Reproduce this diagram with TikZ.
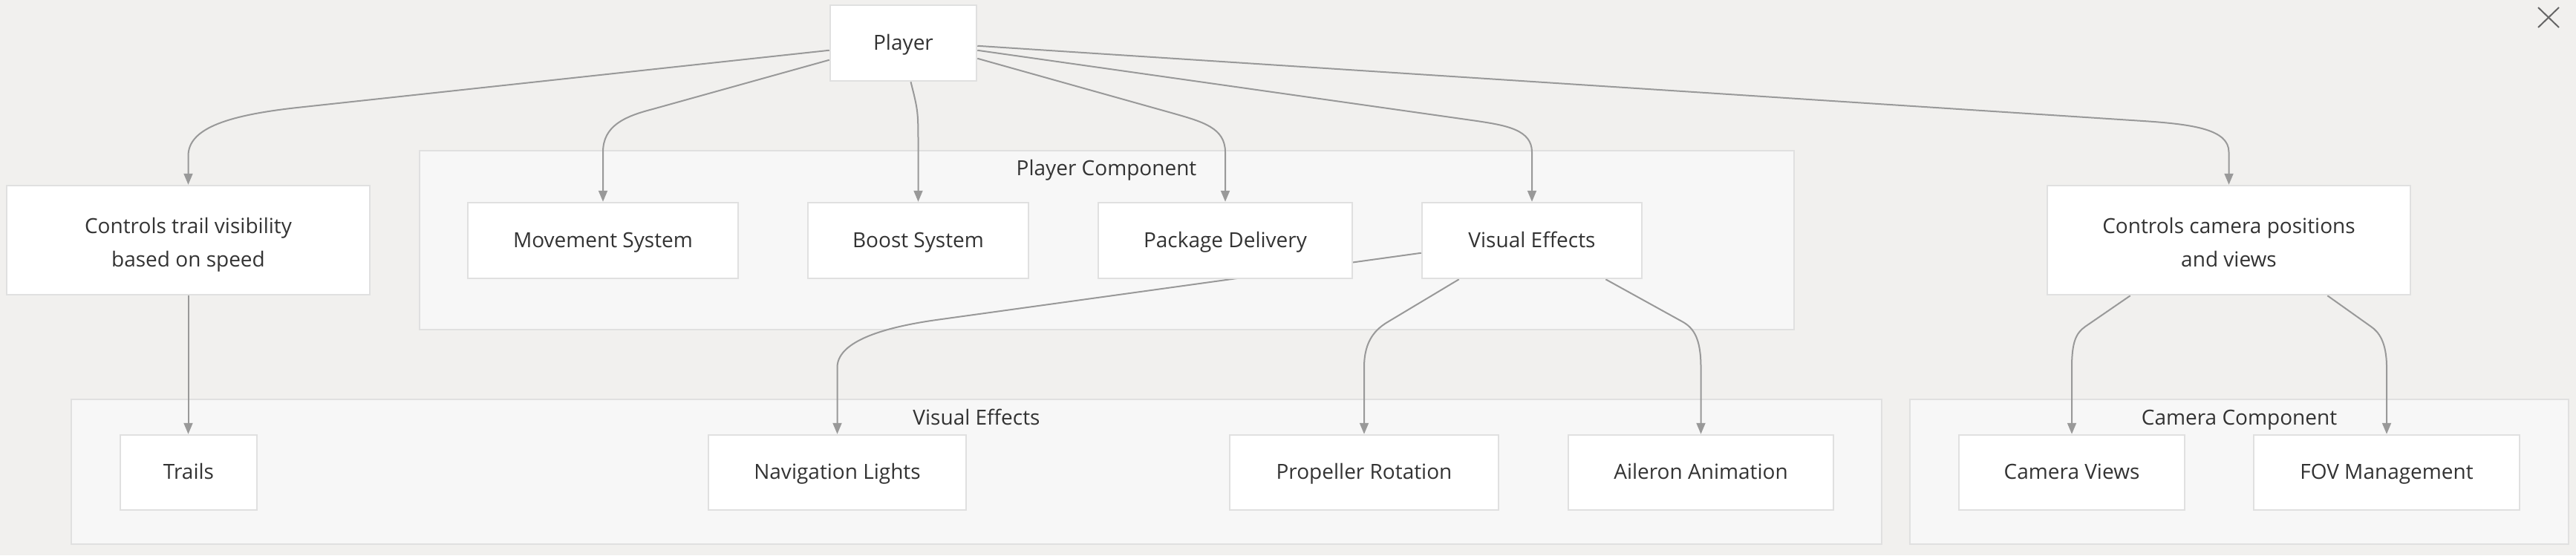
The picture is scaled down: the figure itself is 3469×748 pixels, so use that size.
\documentclass[tikz,border=0pt]{standalone}
\usepackage{fontspec}
\setmainfont{Open Sans}
\usetikzlibrary{arrows.meta,calc}
\definecolor{bgc}{HTML}{F1F0EE}
\definecolor{clfill}{HTML}{F7F7F7}
\definecolor{clline}{HTML}{E0E0E0}
\definecolor{bxline}{HTML}{E0E0E0}
\definecolor{edgec}{HTML}{999999}
\definecolor{txtc}{HTML}{333333}
\pgfdeclarelayer{bg}
\pgfdeclarelayer{edges}
\pgfsetlayers{bg,edges,main}
\newcommand{\toprule}{\rule{0pt}{40.5pt}}
\tikzset{
  box/.style={draw=bxline, line width=2.5pt, fill=white, inner sep=0pt, text=txtc,
    align=center, font=\fontsize{28}{45}\selectfont, minimum height=102pt},
  oneline/.style={execute at begin node=\strut, execute at end node=\strut},
  twoline/.style={minimum height=147pt},
  cluster/.style={draw=clline, line width=2.5pt, fill=clfill},
  cltitle/.style={text=txtc, font=\fontsize{28}{34}\selectfont, inner sep=0pt, anchor=base},
  edge/.style={draw=edgec, line width=2pt, -{Triangle[length=15pt,width=12pt]}},
  xmark/.style={draw=black!60, line width=2pt}
}
\begin{document}
\begin{tikzpicture}[x=1pt,y=-1pt]
\useasboundingbox (0,0) rectangle (3469,748);
\begin{pgfonlayer}{bg}
  \fill[bgc] (0,0) rectangle (3469,748);
  \draw[cluster] (565,203) rectangle (2416,444);
  \draw[cluster] (96,538) rectangle (2534,733);
  \draw[cluster] (2572,538) rectangle (3459,733);
\end{pgfonlayer}
\node[cltitle] (pctitle) at (1490,236) {Player Component};
\node[cltitle] (vetitle) at (1315,572) {Visual Effects};
\node[cltitle] (cctitle) at (3015.5,572) {Camera Component};

\node[box, oneline, minimum width=197pt] (player) at (1216.5,58) {Player};
\node[box, twoline, minimum width=489pt] (trail) at (253.5,323.5) {\toprule Controls trail visibility\\based on speed\strut};
\node[box, oneline, minimum width=364pt] (move) at (812,324) {Movement System};
\node[box, oneline, minimum width=297pt] (boost) at (1236.5,324) {Boost System};
\node[box, oneline, minimum width=342pt] (pkg) at (1650,324) {Package Delivery};
\node[box, oneline, minimum width=296pt] (vfx) at (2063,324) {Visual Effects};
\node[box, twoline, minimum width=489pt] (cam) at (3001.5,323.5) {\toprule Controls camera positions\\and views\strut};
\node[box, oneline, minimum width=184pt, minimum height=101pt] (trails) at (254,636.5) {Trails};
\node[box, oneline, minimum width=347pt, minimum height=101pt] (nav) at (1127.5,636.5) {Navigation Lights};
\node[box, oneline, minimum width=362pt, minimum height=101pt] (prop) at (1837,636.5) {Propeller Rotation};
\node[box, oneline, minimum width=357pt, minimum height=101pt] (ail) at (2290.5,636.5) {Aileron Animation};
\node[box, oneline, minimum width=304pt, minimum height=101pt] (camv) at (2790,636.5) {Camera Views};
\node[box, oneline, minimum width=358pt, minimum height=101pt] (fov) at (3214,636.5) {FOV Management};

\begin{pgfonlayer}{edges}
\draw[edge] ($(player.north west)+(0,62)$) -- (400,145) .. controls (300,156) and (253.5,175) .. (253.5,210) -- (trail.north);
\draw[edge] ($(player.north west)+(0,75)$) -- (879,147) .. controls (840,157) and (812,170) .. (812,205) -- (move.north);
\draw[edge] ($(player.south)+(10,0)$) .. controls (1236.5,150) .. (1236.5,200) -- (boost.north);
\draw[edge] ($(player.north east)+(0,73)$) -- (1581,153) .. controls (1619,164) and (1650,172) .. (1650,205) -- (pkg.north);
\draw[edge] ($(player.north east)+(0,62)$) -- (1989,163) .. controls (2029,169) and (2063,175) .. (2063,205) -- (vfx.north);
\draw[edge] ($(player.north east)+(0,56)$) -- (2886,163) .. controls (2956,167.5) and (3001.5,175) .. (3001.5,205) -- (cam.north);
\draw[edge] (trail.south) -- (trail.south |- trails.north);
\draw[edge] ($(vfx.north west)+(0,69)$) -- (1268,430) .. controls (1208,438) and (1127.5,455) .. (1127.5,495) -- (nav.north);
\draw[edge] ($(vfx.south west)+(51,0)$) -- (1870,433) .. controls (1853,443) and (1837,458) .. (1837,495) -- (prop.north);
\draw[edge] ($(vfx.south east)+(-50,0)$) -- (2265,433) .. controls (2282,442) and (2290.5,458) .. (2290.5,495) -- (ail.north);
\draw[edge] ($(cam.south west)+(113,0)$) -- (2808,440) .. controls (2796,448.5) and (2790,460) .. (2790,495) -- (camv.north);
\draw[edge] ($(cam.south east)+(-113,0)$) -- (3193,440) .. controls (3203,447) and (3214,460) .. (3214,495) -- (fov.north);
\end{pgfonlayer}

\coordinate (xa) at (3418,10);
\coordinate (xb) at (3446,37);
\coordinate (xc) at (3446,10);
\coordinate (xd) at (3418,37);
\draw[xmark] (xa) -- (xb);
\draw[xmark] (xc) -- (xd);
\end{tikzpicture}
\end{document}
